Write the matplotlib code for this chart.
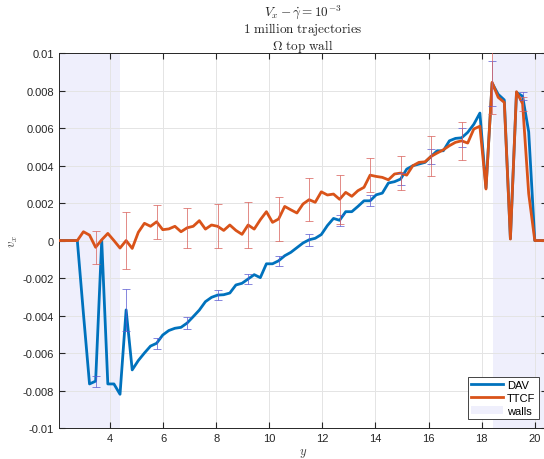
import numpy as np
import matplotlib
matplotlib.use('Agg')
import matplotlib.pyplot as plt
from matplotlib.patches import Patch
from matplotlib.lines import Line2D

plt.rcParams['font.family'] = ['Liberation Sans', 'DejaVu Sans']
plt.rcParams['mathtext.fontset'] = 'cm'

# bin centres (y)
y = np.linspace(2.08, 20.46, 81)

dav = [0, 0, 0, 0, -0.0039, -0.00765, -0.0075, 0.0, -0.00765, -0.00765,
       -0.0082, -0.0037, -0.0069, -0.0064, -0.0060, -0.00563, -0.00548, -0.00504, -0.0048, -0.00468,
       -0.00463, -0.0044, -0.00406, -0.00371, -0.00326, -0.00303, -0.00291, -0.00289, -0.0028, -0.00237,
       -0.00228, -0.00205, -0.00182, -0.00198, -0.00124, -0.00124, -0.00108, -0.00081, -0.00063, -0.00038,
       -0.00013, 0.00004, 0.00012, 0.00032, 0.0008, 0.00118, 0.00108, 0.00154, 0.00154, 0.00182,
       0.00212, 0.00212, 0.00244, 0.00253, 0.00307, 0.00314, 0.00328, 0.00381, 0.00399, 0.00408,
       0.00417, 0.00449, 0.00479, 0.00479, 0.00532, 0.00545, 0.00548, 0.00577, 0.0062, 0.0068,
       0.0028, 0.0084, 0.0078, 0.0075, 0.0001, 0.0079, 0.0077, 0.0058, 0, 0, 0]

ttcf = [0, 0, 0, 0, 0.00047, 0.00029, -0.00036, 0.00004, 0.00038, 0.0,
        -0.0004, 0.0, -0.00042, 0.00044, 0.00092, 0.00076, 0.001, 0.00058, 0.00062, 0.00076,
        0.00047, 0.00068, 0.00076, 0.00106, 0.00061, 0.00083, 0.00076, 0.00054, 0.00083, 0.00054,
        0.00033, 0.00083, 0.00061, 0.00111, 0.00154, 0.00097, 0.00115, 0.00182, 0.00164, 0.00147,
        0.00195, 0.00218, 0.00204, 0.0026, 0.00243, 0.00248, 0.0022, 0.00257, 0.00236, 0.00266,
        0.00284, 0.00349, 0.00342, 0.00337, 0.00324, 0.00355, 0.0036, 0.00349, 0.00399, 0.00417,
        0.0042, 0.00449, 0.00467, 0.00484, 0.00506, 0.00524, 0.00532, 0.0052, 0.00595, 0.0061,
        0.00275, 0.00844, 0.00764, 0.00737, 0.00008, 0.00794, 0.0073, 0.0025, 0, 0, 0]

# error bars every 5th bin
err_idx = [6, 11, 16, 21, 26, 31, 36, 41, 46, 51, 56, 61, 66, 71, 76]
dav_err = [0.0003, 0.00112, 0.0003, 0.00034, 0.00028, 0.00028, 0.00028, 0.00031,
           0.00028, 0.00029, 0.0003, 0.00039, 0.0005, 0.0012, 0.00022]
ttcf_err = [0.00087, 0.00154, 0.0009, 0.00107, 0.00117, 0.00122, 0.00115, 0.00116,
            0.00132, 0.00091, 0.00093, 0.00107, 0.001, 0.0017, 0.00037]

walls = [(2.08, 4.38), (18.41, 20.46)]

blue = '#0072BD'
orange = '#D95319'
wallcol = '#EFEFFC'

fig = plt.figure(figsize=(5.44, 4.6), dpi=100)
ax = fig.add_axes([0.1085, 0.0674, 0.897, 0.815])

for a, b in walls:
    ax.axvspan(a, b, color=wallcol, lw=0, zorder=0)

ax.plot(y, dav, color=blue, lw=2.0, zorder=3)
ax.plot(y, ttcf, color=orange, lw=2.0, zorder=4)

ye = y[err_idx]
ax.errorbar(ye, np.array(dav)[err_idx], yerr=dav_err, fmt='none', ecolor='#5a5ad2',
            elinewidth=0.6, capsize=3, capthick=0.6, alpha=0.85, zorder=5)
ax.errorbar(ye, np.array(ttcf)[err_idx], yerr=ttcf_err, fmt='none', ecolor='#d9605a',
            elinewidth=0.6, capsize=3, capthick=0.6, alpha=0.85, zorder=5)

ax.set_xlim(y[0], y[-1])
ax.set_ylim(-0.01, 0.01)
ax.set_xticks(np.arange(4, 21, 2))
yt = np.arange(-0.01, 0.0101, 0.002)
ax.set_yticks(yt)
ax.set_yticklabels(['%g' % round(v, 3) for v in yt])
ax.grid(True, color='#e4e4e4', lw=0.7)
ax.set_axisbelow(True)
ax.tick_params(direction='in', top=True, right=True, labelsize=8, colors='#262626', length=4)
for s in ax.spines.values():
    s.set_color('#262626')
    s.set_linewidth(0.7)

ax.set_title(r'$V_x - \dot{\gamma} = 10^{-3}$' + '\n' + r'$\mathrm{1\ million\ trajectories}$'
             + '\n' + r'$\Omega\ \mathrm{top\ wall}$', fontsize=9.5, color='#262626',
             linespacing=1.0, pad=3)
ax.set_xlabel(r'$y$', fontsize=9, color='#404040', labelpad=2)
ax.set_ylabel(r'$v_x$', fontsize=9, color='#404040', labelpad=2)

handles = [Line2D([], [], color=blue, lw=2.0), Line2D([], [], color=orange, lw=2.0),
           Patch(facecolor=wallcol, edgecolor='none')]
leg = ax.legend(handles, ['DAV', 'TTCF', 'walls'], loc='lower right', fontsize=8,
                fancybox=False, framealpha=1, edgecolor='#262626', borderpad=0.3,
                labelspacing=0.25, handlelength=2.8, handletextpad=0.4,
                borderaxespad=0, bbox_to_anchor=(0.983, 0.024))
leg.get_frame().set_linewidth(0.6)

plt.savefig('out.png', dpi=100)
